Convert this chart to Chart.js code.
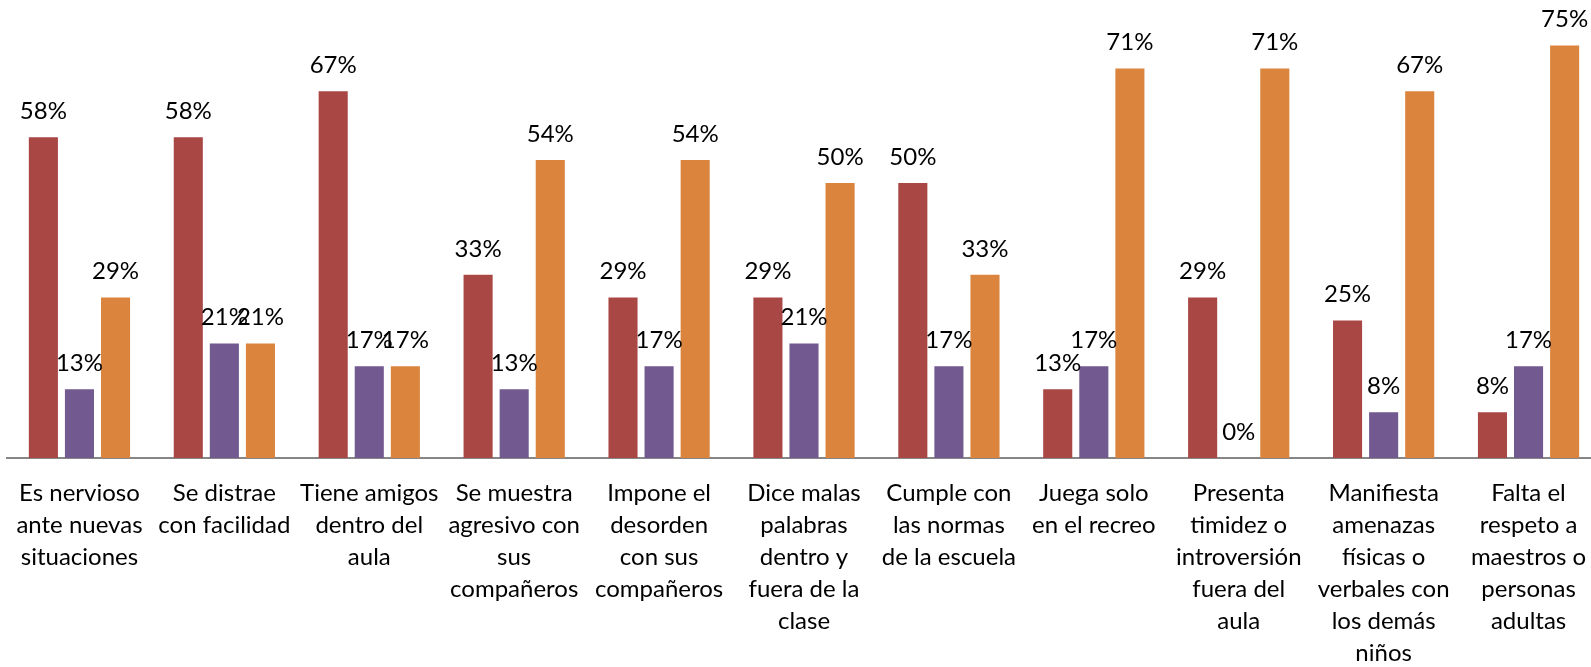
<!DOCTYPE html>
<html>
<head>
<meta charset="utf-8">
<script src="https://cdn.jsdelivr.net/npm/chart.js@4"></script>
<style>
  html,body{margin:0;padding:0;background:#fff;overflow:hidden;}
  #wrap{width:1606px;height:667px;}
</style>
</head>
<body>
<div id="wrap"><canvas id="c" width="1606" height="667"></canvas></div>
<script>
const categories = [
  ['Es nervioso','ante nuevas','situaciones'],
  ['Se distrae','con facilidad'],
  ['Tiene amigos','dentro del','aula'],
  ['Se muestra','agresivo con','sus','compañeros'],
  ['Impone el','desorden','con sus','compañeros'],
  ['Dice malas','palabras','dentro y','fuera de la','clase'],
  ['Cumple con','las normas','de la escuela'],
  ['Juega solo','en el recreo'],
  ['Presenta','timidez o','introversión','fuera del','aula'],
  ['Manifiesta','amenazas','físicas o','verbales con','los demás','niños'],
  ['Falta el','respeto a','maestros o','personas','adultas']
];
const serieRoja    = [58.3, 58.3, 66.7, 33.3, 29.2, 29.2, 50.0, 12.5, 29.2, 25.0, 8.3];
const serieMorada  = [12.5, 20.8, 16.7, 12.5, 16.7, 20.8, 16.7, 16.7, 0, 8.3, 16.7];
const serieNaranja = [29.2, 20.8, 16.7, 54.2, 54.2, 50.0, 33.3, 70.8, 70.8, 66.7, 75.0];

const FONT = 'Lato';

// etiquetas de porcentaje encima de cada barra
const valueLabels = {
  id: 'valueLabels',
  afterDatasetsDraw(chart){
    const ctx = chart.ctx;
    ctx.save();
    ctx.font = '24px ' + FONT;
    ctx.fillStyle = '#000';
    ctx.textAlign = 'center';
    ctx.textBaseline = 'middle';
    chart.data.datasets.forEach((ds, i) => {
      chart.getDatasetMeta(i).data.forEach((bar, j) => {
        ctx.fillText(Math.round(ds.data[j]) + '%', bar.x, bar.y - 26);
      });
    });
    ctx.restore();
  }
};

new Chart(document.getElementById('c').getContext('2d'), {
  type: 'bar',
  data: {
    labels: categories,
    datasets: [
      { label: 'A', data: serieRoja, backgroundColor: '#A94744' },
      { label: 'B', data: serieMorada, backgroundColor: '#72598F' },
      { label: 'C', data: serieNaranja, backgroundColor: '#DB843D' }
    ]
  },
  options: {
    responsive: false,
    animation: false,
    layout: { padding: { left: 7, right: 5, top: 18, bottom: 0 } },
    datasets: { bar: { categoryPercentage: 0.747, barPercentage: 0.806 } },
    plugins: { legend: { display: false }, tooltip: { enabled: false } },
    scales: {
      y: { display: false, min: 0, max: 80 },
      x: {
        grid: { display: false, drawTicks: false },
        border: { color: '#868686', width: 2 },
        ticks: {
          autoSkip: false, maxRotation: 0, padding: 19, color: '#000',
          font: { family: FONT, size: 24, lineHeight: '32px' }
        },
        afterFit(scale){
          scale.height = 209;
          scale.paddingLeft = 0;
          scale.paddingRight = 0;
        }
      }
    }
  },
  plugins: [valueLabels]
});
</script>
</body>
</html>
